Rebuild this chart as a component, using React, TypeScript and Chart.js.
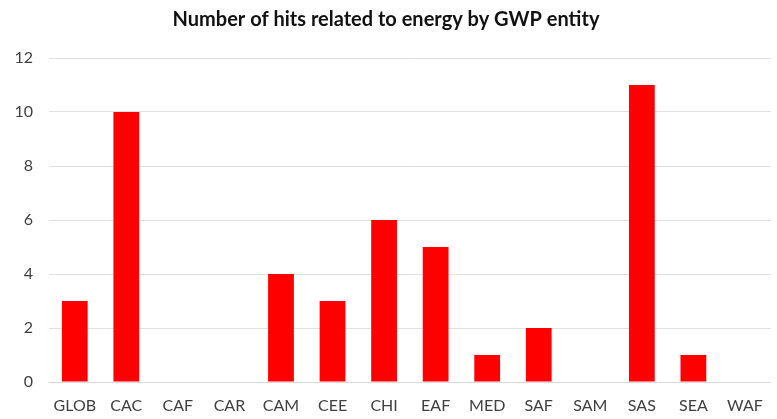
import React, { useEffect, useRef } from "react";
import { Chart, registerables } from "chart.js";

Chart.register(...registerables);

const categories = ["GLOB", "CAC", "CAF", "CAR", "CAM", "CEE", "CHI", "EAF", "MED", "SAF", "SAM", "SAS", "SEA", "WAF"];
const hits = [3, 10, 0, 0, 4, 3, 6, 5, 1, 2, 0, 11, 1, 0];
const chartTitle = "Number of hits related to energy by GWP entity";
const yMax = 12;
const yStep = 2;

export default function App() {
  const ref = useRef<HTMLCanvasElement | null>(null);
  useEffect(() => {
    document.body.style.margin = "0";
    const ctx = ref.current!;
    const font = "Lato, 'Open Sans', sans-serif";
    const chart = new Chart(ctx, {
      type: "bar",
      data: {
        labels: categories,
        datasets: [
          {
            data: hits,
            backgroundColor: "#ff0000",
            borderWidth: 0,
            barPercentage: 0.5,
            categoryPercentage: 1,
          },
        ],
      },
      options: {
        responsive: false,
        animation: false,
        devicePixelRatio: 1,
        layout: { padding: { left: 0, right: 5, top: 0, bottom: 0 } },
        plugins: {
          legend: { display: false },
          tooltip: { enabled: false },
          title: {
            display: true,
            text: chartTitle,
            color: "#111111",
            font: { family: font, size: 20, weight: "bold", lineHeight: 1.2 },
            padding: { top: 8, bottom: 26 },
          },
        },
        scales: {
          x: {
            grid: { display: false, drawTicks: false },
            border: { display: true, color: "#d9d9d9", width: 1 },
            ticks: {
              color: "#404040",
              font: { family: font, size: 16 },
              padding: 14,
              autoSkip: false,
              maxRotation: 0,
            },
            afterFit: (s: any) => {
              s.height = 37;
            },
          },
          y: {
            min: 0,
            max: yMax,
            grid: { color: "#e0e0e0", lineWidth: 1, drawTicks: false },
            border: { display: false },
            ticks: {
              stepSize: yStep,
              color: "#404040",
              font: { family: font, size: 16 },
              padding: 16,
            },
            afterFit: (s: any) => {
              s.width = 49;
            },
          },
        },
      },
    });
    return () => chart.destroy();
  }, []);
  return (
    <div style={{ width: 777, height: 419, background: "#fff" }}>
      <canvas ref={ref} width={777} height={419} style={{ display: "block" }} />
    </div>
  );
}
